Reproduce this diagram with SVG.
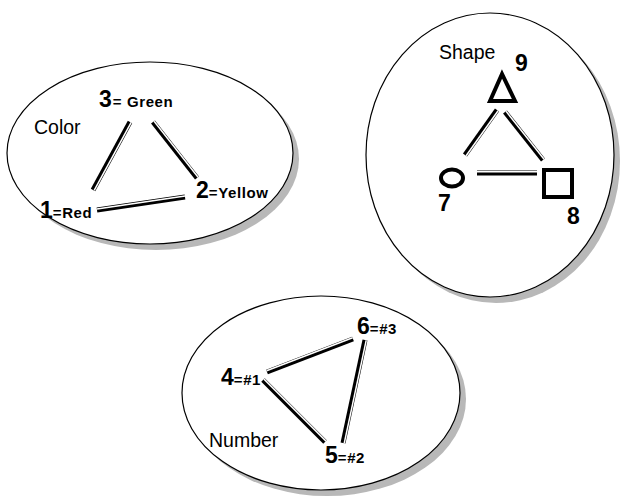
<svg xmlns="http://www.w3.org/2000/svg" width="621" height="500" viewBox="0 0 621 500">
<style>
.sh{fill:#b8b8b8}
.el{fill:#fff;stroke:#000;stroke-width:1.2}
.lab{font-family:"Liberation Sans",Arial,sans-serif;font-size:19.5px;fill:#000}
.num{font-family:"Liberation Sans",Arial,sans-serif;font-weight:bold;font-size:23px;fill:#000}
.sub{font-family:"Liberation Sans",Arial,sans-serif;font-weight:bold;font-size:15px;letter-spacing:0.6px;fill:#000}
.c{stroke:#000;stroke-width:5;stroke-linecap:butt;fill:none}
.w{stroke:#fff;stroke-width:1.5;fill:none}
.sym{fill:none;stroke:#000;stroke-width:4}
</style>
<g id="color-set">
<ellipse class="sh" cx="156" cy="159" rx="143" ry="91"/>
<ellipse class="el" cx="150" cy="153" rx="143" ry="91"/>
<text class="lab" x="34" y="134">Color</text>
</g>
<g id="shape-set">
<ellipse class="sh" cx="496" cy="161" rx="124" ry="142"/>
<ellipse class="el" cx="490" cy="155" rx="124" ry="142"/>
<text class="lab" x="439" y="59">Shape</text>
</g>
<g id="number-set">
<ellipse class="sh" cx="327" cy="399" rx="139" ry="97"/>
<ellipse class="el" cx="321" cy="393" rx="139" ry="97"/>
<text class="lab" x="209" y="447" font-size="20">Number</text>
</g>
<g id="n3"><text x="99" y="107"><tspan class="num">3</tspan><tspan class="sub" dx="1">= Green</tspan></text></g>
<g id="n1"><text x="40" y="218"><tspan class="num">1</tspan><tspan class="sub" font-size="14">=Red</tspan></text></g>
<g id="n2"><text x="196" y="198"><tspan class="num">2</tspan><tspan class="sub">=Yellow</tspan></text></g>
<g id="n9"><text class="num" x="515" y="71" font-size="20">9</text><polygon class="sym" points="502,74 490,101 515,101"/></g>
<g id="n7"><ellipse class="sym" cx="452" cy="178" rx="11" ry="8.5"/><text class="num" x="438" y="211" font-size="20">7</text></g>
<g id="n8"><rect class="sym" x="544" y="170" width="28" height="27"/><text class="num" x="567" y="224" font-size="20">8</text></g>
<g id="n6"><text x="357" y="334"><tspan class="num">6</tspan><tspan class="sub" font-size="14">=#3</tspan></text></g>
<g id="n4"><text x="221" y="385"><tspan class="num">4</tspan><tspan class="sub" font-size="14">=#1</tspan></text></g>
<g id="n5"><text x="325" y="463"><tspan class="num">5</tspan><tspan class="sub" font-size="14">=#2</tspan></text></g>
<g id="connectors">
<line class="c" x1="130" y1="122" x2="93" y2="190"/><line class="w" x1="131.2" y1="122.4" x2="94.2" y2="190.4"/>
<line class="c" x1="153" y1="122" x2="197" y2="178"/><line class="w" x1="154.1" y1="121.3" x2="198.1" y2="177.3"/>
<line class="c" x1="97" y1="210" x2="185" y2="197"/><line class="w" x1="97" y1="208.9" x2="185" y2="195.9"/>
<line class="c" x1="497" y1="110" x2="465" y2="155"/><line class="w" x1="498.1" y1="110.7" x2="466.1" y2="155.7"/>
<line class="c" x1="505" y1="112" x2="543" y2="160"/><line class="w" x1="506.1" y1="111.3" x2="544.1" y2="159.3"/>
<line class="c" x1="477" y1="173" x2="537" y2="173"/><line class="w" x1="477" y1="171.8" x2="537" y2="171.8"/>
<line class="c" x1="267" y1="372" x2="353" y2="339"/><line class="w" x1="266.6" y1="370.8" x2="352.6" y2="337.8"/>
<line class="c" x1="263" y1="380" x2="325" y2="442"/><line class="w" x1="264" y1="379.1" x2="326" y2="441.1"/>
<line class="c" x1="365" y1="340" x2="343" y2="443"/><line class="w" x1="366.2" y1="340.3" x2="344.2" y2="443.3"/>
</g>
</svg>
